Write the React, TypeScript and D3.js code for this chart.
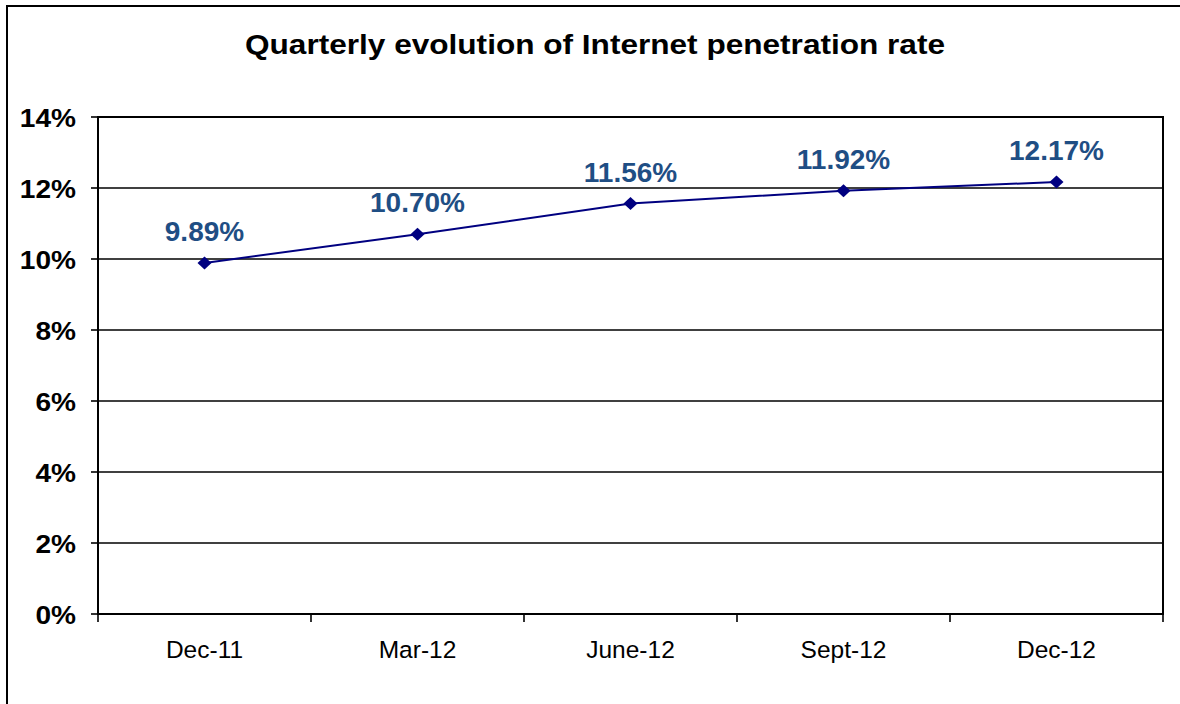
import React from "react";
import * as d3 from "d3";

const categories = ["Dec-11", "Mar-12", "June-12", "Sept-12", "Dec-12"];
const values = [9.89, 10.7, 11.56, 11.92, 12.17];
const labels = ["9.89%", "10.70%", "11.56%", "11.92%", "12.17%"];
const yTicks = [0, 2, 4, 6, 8, 10, 12, 14];
const title = "Quarterly evolution of Internet penetration rate";

export default function App() {
  const W = 1180, H = 704;
  const left = 98, right = 1163, top = 117, bottom = 614;
  const x = d3.scaleBand<string>().domain(categories).range([left, right]);
  const y = d3.scaleLinear().domain([0, 14]).range([bottom, top]);
  const line = d3.line<number>()
    .x((_, i) => (x(categories[i]) as number) + x.bandwidth() / 2)
    .y((d) => y(d));
  const font = "Arial, 'Liberation Sans', sans-serif";
  const bounds = [...categories.map((c) => x(c) as number), right];
  return (
    <svg width={W} height={H} style={{ position: "absolute", left: 0, top: 0, background: "#fff" }} fontFamily={font}>
      <rect x={0} y={0} width={W} height={H} fill="#fff" />
      <rect x={7} y={6} width={W + 10} height={H + 10} fill="none" stroke="#000" strokeWidth={2} />
      <text x={595} y={54} textAnchor="middle" fontSize={28} fontWeight="bold" textLength={700} lengthAdjust="spacingAndGlyphs">{title}</text>
      {yTicks.map((t) => (
        <g key={t}>
          <line x1={left} x2={right} y1={y(t)} y2={y(t)} stroke="#000" strokeWidth={1.6} />
          <line x1={91} x2={left} y1={y(t)} y2={y(t)} stroke="#000" strokeWidth={1.6} />
          <text transform={`translate(76,${y(t) + 9.5}) scale(1.08,1)`} textAnchor="end" fontSize={26} fontWeight="bold">{t}%</text>
        </g>
      ))}
      <rect x={left} y={top} width={right - left} height={bottom - top} fill="none" stroke="#000" strokeWidth={2} />
      {bounds.map((b, i) => (
        <line key={i} x1={b} x2={b} y1={bottom} y2={622} stroke="#000" strokeWidth={1.6} />
      ))}
      {categories.map((c) => (
        <text key={c} x={(x(c) as number) + x.bandwidth() / 2} y={658} textAnchor="middle" fontSize={24.5}>{c}</text>
      ))}
      <path d={line(values) || ""} fill="none" stroke="#000080" strokeWidth={2} />
      {values.map((v, i) => {
        const cx = (x(categories[i]) as number) + x.bandwidth() / 2;
        const cy = y(v);
        return (
          <g key={i}>
            <path d={`M${cx},${cy - 6.5}L${cx + 7},${cy}L${cx},${cy + 6.5}L${cx - 7},${cy}Z`} fill="#000080" />
            <text x={cx} y={cy - 22} textAnchor="middle" fontSize={28} fontWeight="bold" fill="#1F4E84">{labels[i]}</text>
          </g>
        );
      })}
    </svg>
  );
}
